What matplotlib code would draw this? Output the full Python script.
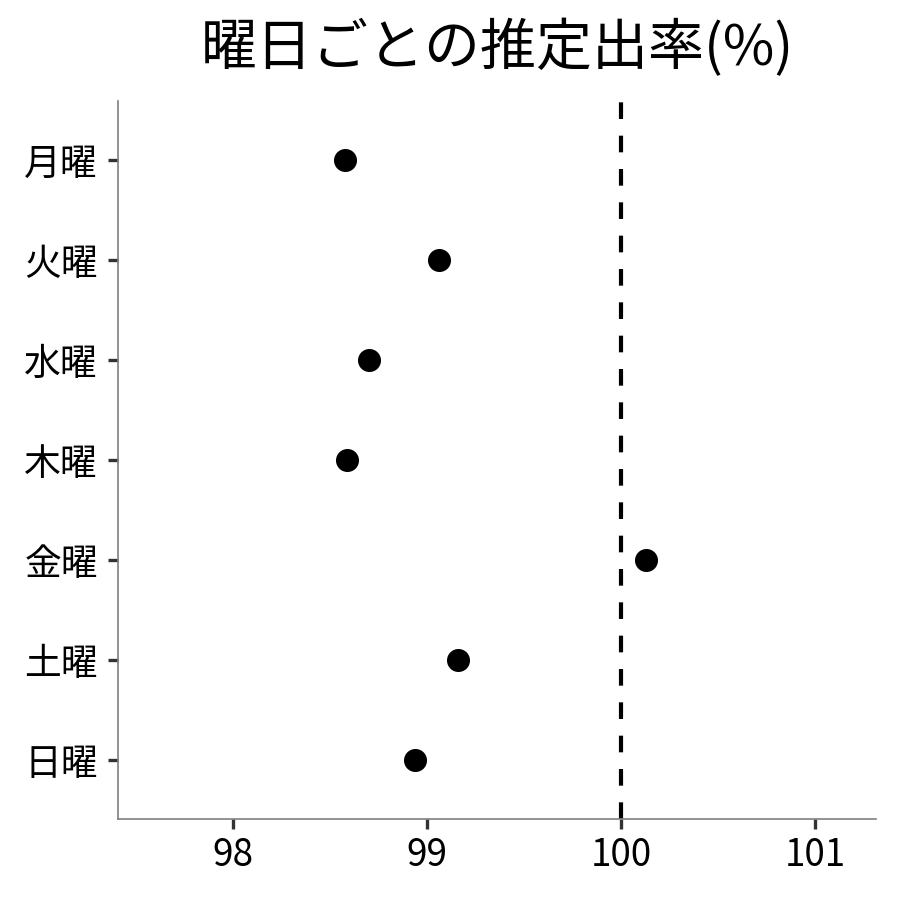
import matplotlib
matplotlib.use('Agg')
import matplotlib.pyplot as plt
import numpy as np

plt.rcParams['font.family'] = ['Noto Sans CJK JP', 'DejaVu Sans']

# データ
days = ['月曜', '火曜', '水曜', '木曜', '金曜', '土曜', '日曜']
rates = [98.58, 99.06, 98.70, 98.59, 100.13, 99.16, 98.94]
x_ticks = [98, 99, 100, 101]

fig = plt.figure(figsize=(9, 9), dpi=100)
ax = fig.add_axes([0.131, 0.09, 0.842, 0.798])

y = np.arange(len(days))[::-1] + 1
ax.scatter(rates, y, s=275, color='black', zorder=3, linewidths=0)
ax.axvline(100, color='black', linestyle=(0, (4, 4)), linewidth=3.0, zorder=2)

ax.set_xlim(97.41, 101.31)
ax.set_ylim(0.41, 7.59)
ax.set_xticks(x_ticks)
ax.set_xticklabels([str(t) for t in x_ticks])
ax.set_yticks(y)
ax.set_yticklabels(days)

for side in ['top', 'right']:
    ax.spines[side].set_visible(False)
for side in ['left', 'bottom']:
    ax.spines[side].set_color('#7f7f7f')
    ax.spines[side].set_linewidth(1.2)

ax.tick_params(axis='both', length=7.5, width=2.4, color='#333333',
               labelsize=26.5, labelcolor='black', pad=5)
ax.tick_params(axis='y', pad=7)

fig.suptitle('曜日ごとの推定出率(%)', x=0.553, y=0.978, fontsize=40.3)

fig.savefig('out.png', dpi=100)
